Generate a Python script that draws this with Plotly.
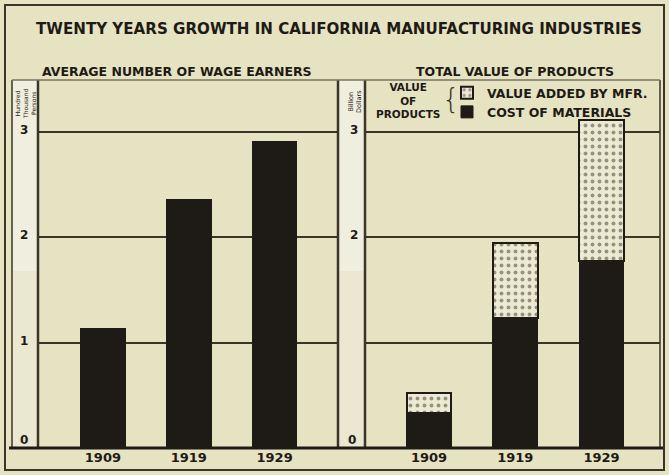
import plotly.graph_objects as go

# ---- data -------------------------------------------------------------
years = ["1909", "1919", "1929"]
wage_earners = [1.13, 2.36, 2.91]          # hundred thousand persons
cost_of_materials = [0.33, 1.23, 1.77]     # billion dollars
value_added = [0.19, 0.71, 1.34]           # billion dollars
left_ticks = ["1", "2", "3"]
right_ticks = ["2", "3"]

# ---- styling ----------------------------------------------------------
W, H = 669, 475
PAPER = "#e6e3c2"
STRIP_HI = "#f0efdf"
STRIP_LO = "#eae8d1"
INK = "#1e1a15"
LINE = "#3a3528"
FONT = "DejaVu Sans"
Y_TOP = 3.49


def px(x):
    return x / W


def py(y):
    return 1 - y / H


fig = go.Figure()

fig.add_trace(go.Bar(
    x=years, y=wage_earners, xaxis="x", yaxis="y",
    marker=dict(color=INK, line=dict(color=INK, width=1)),
    width=0.52, showlegend=False, hoverinfo="x+y",
))
fig.add_trace(go.Bar(
    x=years, y=cost_of_materials, xaxis="x2", yaxis="y2",
    name="COST OF MATERIALS",
    marker=dict(color=INK, line=dict(color=INK, width=1)),
    width=0.52,
))
fig.add_trace(go.Bar(
    x=years, y=value_added, xaxis="x2", yaxis="y2",
    name="VALUE ADDED BY MFR.",
    marker=dict(
        color="#ecead3",
        line=dict(color=INK, width=2),
        pattern=dict(shape=".", fgcolor="#3e392b", bgcolor="#ecead3",
                     size=7, solidity=0.25),
    ),
    width=0.52,
))

xcommon = dict(type="category", showgrid=False, zeroline=False, showline=False,
               ticks="", tickfont=dict(family=FONT, size=13, color=INK, weight="bold"),
               fixedrange=True)
ycommon = dict(range=[0, Y_TOP], tickvals=[1, 2, 3], showticklabels=False,
               showgrid=True, gridcolor=LINE, gridwidth=2, zeroline=False,
               showline=False, ticks="", fixedrange=True,
               domain=[py(448), py(80)])

fig.update_layout(
    width=W, height=H,
    margin=dict(l=0, r=0, t=0, b=0),
    paper_bgcolor=PAPER, plot_bgcolor=PAPER,
    barmode="stack", bargap=0.4,
    xaxis=dict(domain=[px(38), px(337)], range=[-0.756, 2.727], anchor="y", **xcommon),
    yaxis=dict(anchor="x", **ycommon),
    xaxis2=dict(domain=[px(365), px(660)], range=[-0.742, 2.678], anchor="y2", **xcommon),
    yaxis2=dict(anchor="x2", **ycommon),
    legend=dict(x=px(447), y=py(78), xanchor="left", yanchor="top",
                bgcolor="rgba(0,0,0,0)", borderwidth=0, tracegroupgap=0,
                itemwidth=30,
                font=dict(family=FONT, size=12.5, color=INK, weight="bold")),
    showlegend=True,
)

shapes = []
# axis strips beside each panel
for x0, x1 in [(12, 38), (338, 365)]:
    shapes.append(dict(type="rect", xref="paper", yref="paper",
                       x0=px(x0), x1=px(x1), y0=py(271), y1=py(80),
                       fillcolor=STRIP_HI, line=dict(width=0), layer="below"))
    shapes.append(dict(type="rect", xref="paper", yref="paper",
                       x0=px(x0), x1=px(x1), y0=py(448), y1=py(271),
                       fillcolor=STRIP_LO, line=dict(width=0), layer="below"))
# panel borders
for x in [12, 38, 338, 365, 660]:
    w = 2.5 if x in (38, 338, 365) else 1.5
    shapes.append(dict(type="line", xref="paper", yref="paper",
                       x0=px(x), x1=px(x), y0=py(448), y1=py(80),
                       line=dict(color=LINE, width=w)))
shapes.append(dict(type="line", xref="paper", yref="paper",
                   x0=px(12), x1=px(660), y0=py(80), y1=py(80),
                   line=dict(color="#7a7560", width=1.5)))
# baseline
shapes.append(dict(type="line", xref="paper", yref="paper",
                   x0=px(9), x1=px(663), y0=py(448), y1=py(448),
                   line=dict(color=INK, width=3)))
# outer frame
shapes.append(dict(type="rect", xref="paper", yref="paper",
                   x0=px(5), x1=px(664), y0=py(470), y1=py(5),
                   line=dict(color=LINE, width=2)))
fig.update_layout(shapes=shapes)


def label(text, x, y, size, weight="normal", yref="paper", yshift=0,
          angle=0, color=INK):
    return dict(text=text, x=x, y=y, xref="paper", yref=yref,
                xanchor="center", yanchor="middle", yshift=yshift,
                textangle=angle, showarrow=False,
                font=dict(family=FONT, size=size, color=color, weight=weight))


ann = []
ann.append(label("TWENTY YEARS GROWTH IN CALIFORNIA MANUFACTURING INDUSTRIES",
                 px(339), py(29), 15.1, "bold"))
ann.append(label("AVERAGE NUMBER OF WAGE EARNERS", px(177), py(72), 12.5, "bold"))
ann.append(label("TOTAL VALUE OF PRODUCTS", px(515), py(72), 12.5, "bold"))

# value labels inside the strips
for t in left_ticks:
    ann.append(label(t, px(24), float(t), 12, "bold", yref="y", yshift=2))
ann.append(label("0", px(24), 0, 12, "bold", yref="y", yshift=8))
for t in right_ticks:
    ann.append(label(t, px(354), float(t), 12, "bold", yref="y2", yshift=2))
ann.append(label("0", px(352), 0, 12, "bold", yref="y2", yshift=8))

# unit captions
ann.append(label("Hundred<br>Thousand<br>Persons", px(25), py(104), 6, angle=-90))
ann.append(label("Billion<br>Dollars", px(355), py(102), 6.5, angle=-90))

# legend heading and brace
ann.append(label("VALUE<br>OF<br>PRODUCTS", px(408), py(101), 10.5, "bold"))
ann.append(label("{", px(451), py(99), 28, 200, color=LINE))
fig.update_layout(annotations=ann)

fig.write_html("out.html")
